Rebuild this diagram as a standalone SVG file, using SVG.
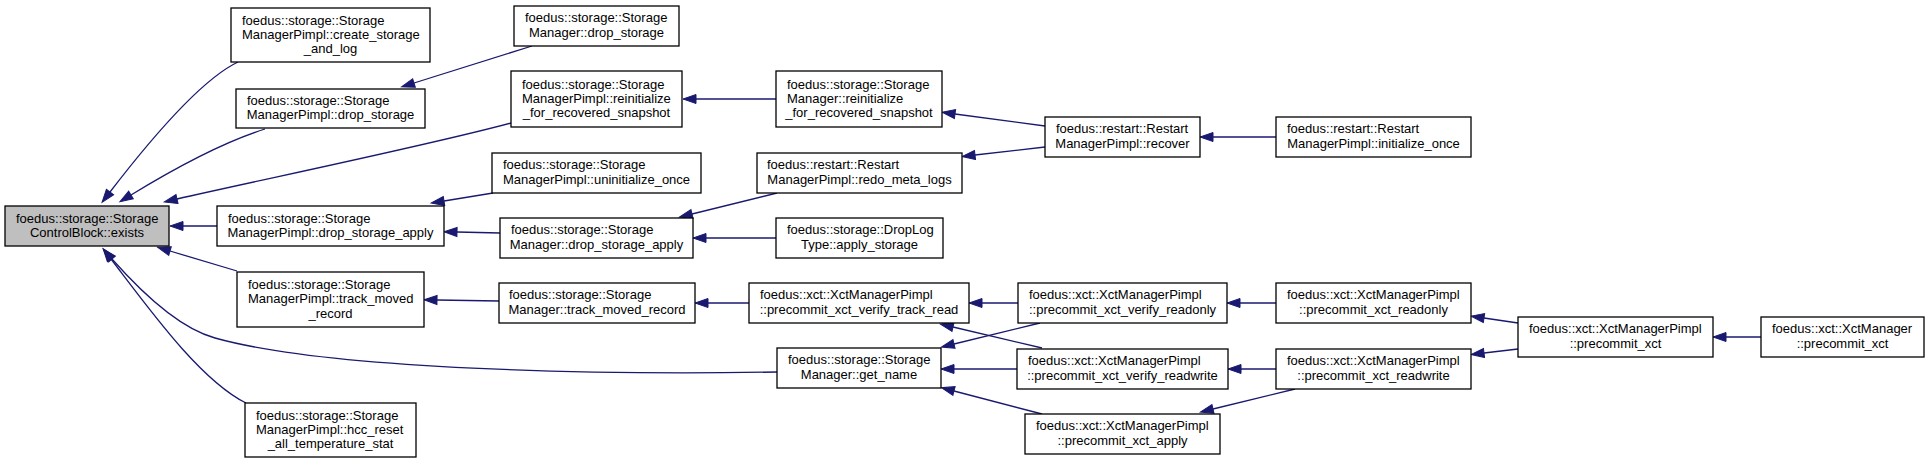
<svg xmlns="http://www.w3.org/2000/svg" width="1929" height="463" viewBox="0 0 1929 463">
<style>
rect.n{fill:#fff;stroke:#000;stroke-width:1.3}
rect.r{fill:#bfbfbf;stroke:#000;stroke-width:1.3}
text{font-family:"Liberation Sans",Arial,sans-serif;font-size:13px;fill:#000}
text.c{text-anchor:middle}
#edges path{fill:none;stroke:#191970;stroke-width:1.3;marker-end:url(#ah)}
</style>
<defs>
<marker id="ah" markerUnits="userSpaceOnUse" markerWidth="14" markerHeight="10" refX="0" refY="5" orient="auto" overflow="visible">
<path d="M0,0.5 L13,5 L0,9.5 z" fill="#191970" stroke="#191970" stroke-width="1"/>
</marker>
</defs>
<rect width="1929" height="463" fill="#fff"/>
<g id="edges">
<path d="M238,62 C200,80 150,140 110,192"/>
<path d="M265,129 C230,140 180,165 131,195"/>
<path d="M511,123 C430,145 260,180 177,199"/>
<path d="M217,226 L183,226"/>
<path d="M237,271 L170,251"/>
<path d="M777,372 C600,375 330,370 215,338 C175,327 135,285 112,259"/>
<path d="M246,403 C200,380 150,310 111,259"/>
<path d="M532,46 L414,83"/>
<path d="M776,99 L696,99"/>
<path d="M493,193 L444,201"/>
<path d="M500,233 L457,232"/>
<path d="M499,301 L437,300"/>
<path d="M777,193 L692,214"/>
<path d="M776,238 L706,238"/>
<path d="M749,303 L708,303"/>
<path d="M1045,126 L955,114"/>
<path d="M1045,147 L975,155"/>
<path d="M1276,137 L1213,137"/>
<path d="M1018,303 L982,303"/>
<path d="M1042,348 L953,327"/>
<path d="M1040,323 L954,344"/>
<path d="M1017,369 L954,369"/>
<path d="M1042,414 L954,391"/>
<path d="M1276,303 L1240,303"/>
<path d="M1276,369 L1241,369"/>
<path d="M1295,389 L1213,409"/>
<path d="M1518,323 L1484,318"/>
<path d="M1518,349 L1484,353"/>
<path d="M1761,337 L1726,337"/>
</g>
<g id="root"><rect class="r" x="5" y="206" width="164" height="40"/><text x="16" y="222.5">foedus::storage::Storage</text><text class="c" x="87" y="236.8">ControlBlock::exists</text></g>
<g id="create"><rect class="n" x="231" y="8" width="199" height="54"/><text x="242" y="24.8">foedus::storage::Storage</text><text x="242" y="39.1">ManagerPimpl::create_storage</text><text class="c" x="330.5" y="53.4">_and_log</text></g>
<g id="pdrop"><rect class="n" x="236" y="89" width="189" height="39"/><text x="247" y="105">foedus::storage::Storage</text><text class="c" x="330.5" y="119.3">ManagerPimpl::drop_storage</text></g>
<g id="pdropapply"><rect class="n" x="217" y="206" width="227" height="40"/><text x="228" y="222.5">foedus::storage::Storage</text><text class="c" x="330.5" y="236.8">ManagerPimpl::drop_storage_apply</text></g>
<g id="ptrack"><rect class="n" x="237" y="272" width="187" height="55"/><text x="248" y="289">foedus::storage::Storage</text><text x="248" y="303.3">ManagerPimpl::track_moved</text><text class="c" x="330.5" y="317.6">_record</text></g>
<g id="hcc"><rect class="n" x="245" y="403" width="171" height="54"/><text x="256" y="419.8">foedus::storage::Storage</text><text x="256" y="434.1">ManagerPimpl::hcc_reset</text><text class="c" x="330.5" y="448.4">_all_temperature_stat</text></g>
<g id="sdrop"><rect class="n" x="514" y="6" width="165" height="40"/><text x="525" y="22.3">foedus::storage::Storage</text><text class="c" x="596.5" y="36.6">Manager::drop_storage</text></g>
<g id="preinit"><rect class="n" x="511" y="71" width="171" height="56"/><text x="522" y="88.5">foedus::storage::Storage</text><text x="522" y="102.8">ManagerPimpl::reinitialize</text><text class="c" x="596.5" y="117.1">_for_recovered_snapshot</text></g>
<g id="uninit"><rect class="n" x="492" y="153" width="209" height="40"/><text x="503" y="169.3">foedus::storage::Storage</text><text class="c" x="596.5" y="183.6">ManagerPimpl::uninitialize_once</text></g>
<g id="sdropapply"><rect class="n" x="500" y="218" width="193" height="40"/><text x="511" y="234.3">foedus::storage::Storage</text><text class="c" x="596.5" y="248.6">Manager::drop_storage_apply</text></g>
<g id="strack"><rect class="n" x="499" y="283" width="196" height="40"/><text x="509" y="299.3">foedus::storage::Storage</text><text class="c" x="597" y="313.6">Manager::track_moved_record</text></g>
<g id="sreinit"><rect class="n" x="776" y="71" width="166" height="56"/><text x="787" y="88.5">foedus::storage::Storage</text><text x="787" y="102.8">Manager::reinitialize</text><text class="c" x="859" y="117.1">_for_recovered_snapshot</text></g>
<g id="redo"><rect class="n" x="757" y="153" width="205" height="40"/><text x="767" y="169.3">foedus::restart::Restart</text><text class="c" x="859.5" y="183.6">ManagerPimpl::redo_meta_logs</text></g>
<g id="droplog"><rect class="n" x="776" y="218" width="167" height="40"/><text x="787" y="234.3">foedus::storage::DropLog</text><text class="c" x="859.5" y="248.6">Type::apply_storage</text></g>
<g id="vtrack"><rect class="n" x="749" y="283" width="220" height="40"/><text x="760" y="299.3">foedus::xct::XctManagerPimpl</text><text class="c" x="859" y="313.6">::precommit_xct_verify_track_read</text></g>
<g id="getname"><rect class="n" x="777" y="348" width="164" height="40"/><text x="788" y="364.3">foedus::storage::Storage</text><text class="c" x="859" y="378.6">Manager::get_name</text></g>
<g id="recover"><rect class="n" x="1045" y="117" width="155" height="40"/><text x="1056" y="133.3">foedus::restart::Restart</text><text class="c" x="1122.5" y="147.6">ManagerPimpl::recover</text></g>
<g id="initonce"><rect class="n" x="1276" y="117" width="195" height="40"/><text x="1287" y="133.3">foedus::restart::Restart</text><text class="c" x="1373.5" y="147.6">ManagerPimpl::initialize_once</text></g>
<g id="vro"><rect class="n" x="1018" y="283" width="209" height="40"/><text x="1029" y="299.3">foedus::xct::XctManagerPimpl</text><text class="c" x="1122.5" y="313.6">::precommit_xct_verify_readonly</text></g>
<g id="vrw"><rect class="n" x="1017" y="349" width="211" height="40"/><text x="1028" y="365.3">foedus::xct::XctManagerPimpl</text><text class="c" x="1122.5" y="379.6">::precommit_xct_verify_readwrite</text></g>
<g id="apply"><rect class="n" x="1025" y="414" width="195" height="40"/><text x="1036" y="430.3">foedus::xct::XctManagerPimpl</text><text class="c" x="1122.5" y="444.6">::precommit_xct_apply</text></g>
<g id="ro"><rect class="n" x="1276" y="283" width="195" height="40"/><text x="1287" y="299.3">foedus::xct::XctManagerPimpl</text><text class="c" x="1373.5" y="313.6">::precommit_xct_readonly</text></g>
<g id="rw"><rect class="n" x="1276" y="349" width="195" height="40"/><text x="1287" y="365.3">foedus::xct::XctManagerPimpl</text><text class="c" x="1373.5" y="379.6">::precommit_xct_readwrite</text></g>
<g id="pxct"><rect class="n" x="1518" y="317" width="195" height="40"/><text x="1529" y="333.3">foedus::xct::XctManagerPimpl</text><text class="c" x="1615.5" y="347.6">::precommit_xct</text></g>
<g id="xct"><rect class="n" x="1761" y="317" width="163" height="40"/><text x="1772" y="333.3">foedus::xct::XctManager</text><text class="c" x="1842.5" y="347.6">::precommit_xct</text></g>
</svg>
